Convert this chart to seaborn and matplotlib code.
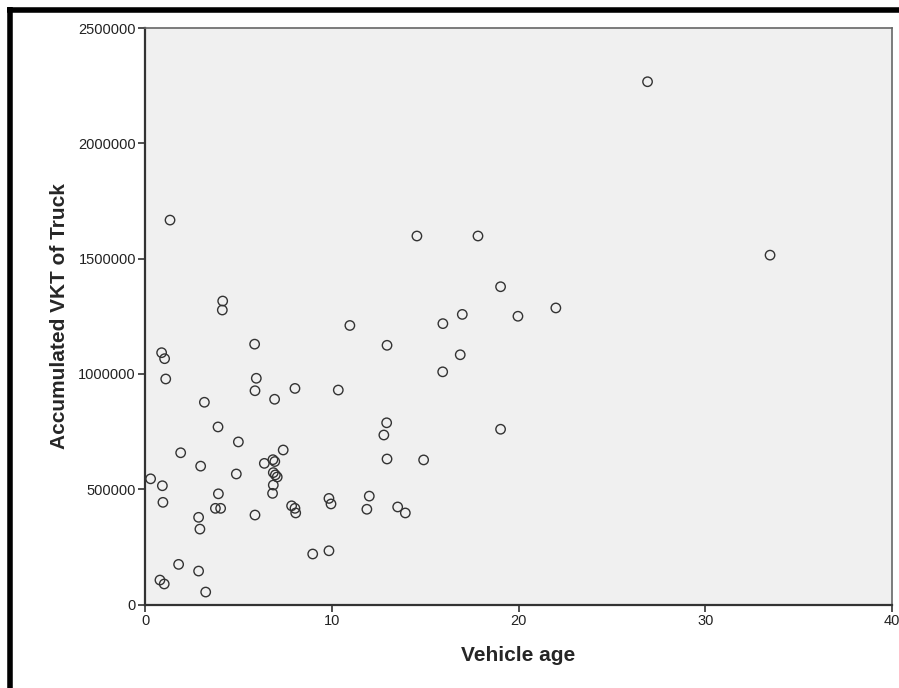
import matplotlib
matplotlib.use("Agg")
import matplotlib.pyplot as plt
import seaborn as sns
import pandas as pd
from matplotlib.lines import Line2D

vehicle_age = [
    4.16, 4.14, 10.97, 0.89, 1.05, 5.87, 1.11, 5.96, 5.89, 8.03,
    10.35, 6.94, 3.18, 3.91, 5.00, 7.40, 1.91, 6.85, 6.95, 6.39,
    2.98, 4.89, 6.87, 6.98, 7.08, 6.87, 6.83, 0.30, 0.93, 0.96,
    3.93, 3.77, 4.05, 5.89, 2.87, 2.94, 7.85, 8.03, 8.07, 9.85,
    9.96, 12.01, 11.88, 8.98, 9.85, 1.80, 2.87, 0.80, 1.03, 3.25,
    19.04, 22.00, 16.99, 19.97, 15.95, 12.96, 16.88, 15.94, 12.94, 12.79,
    19.04, 12.96, 14.92, 13.53, 13.94, 1.34, 14.56, 17.83, 26.91, 33.47,
]
accumulated_vkt = [
    1316000, 1277000, 1210000, 1092000, 1066000, 1129000, 978000, 981000, 927000, 937000,
    930000, 890000, 877000, 770000, 705000, 670000, 658000, 628000, 620000, 612000,
    600000, 566000, 572000, 562000, 553000, 518000, 482000, 545000, 515000, 443000,
    480000, 417000, 417000, 388000, 378000, 327000, 428000, 417000, 397000, 460000,
    436000, 470000, 413000, 219000, 233000, 174000, 145000, 106000, 89000, 54000,
    1378000, 1286000, 1258000, 1250000, 1218000, 1124000, 1083000, 1009000, 788000, 735000,
    760000, 631000, 627000, 423000, 397000, 1667000, 1598000, 1598000, 2267000, 1515000,
]

x_ticks = [0, 10, 20, 30, 40]
y_ticks = [0, 500000, 1000000, 1500000, 2000000, 2500000]
x_label = "Vehicle age"
y_label = "Accumulated VKT of Truck"

df = pd.DataFrame({x_label: vehicle_age, y_label: accumulated_vkt})

sns.set_style("white")
plt.rcParams["font.family"] = ["Liberation Sans Narrow", "Liberation Sans", "DejaVu Sans"]

fig = plt.figure(figsize=(8.99, 6.88), dpi=100)
ax = fig.add_axes([145 / 899, (688 - 604.5) / 688, (892 - 145) / 899, (604.5 - 28) / 688])
ax.set_facecolor("#f0f0f0")

sns.scatterplot(data=df, x=x_label, y=y_label, ax=ax, marker="o",
                s=46, facecolor="none", edgecolor="#333333", linewidth=1.0)

ax.set_xlim(0, 40)
ax.set_ylim(0, 2500000)
ax.set_xticks(x_ticks)
ax.set_xticklabels([str(t) for t in x_ticks])
ax.set_yticks(y_ticks)
ax.set_yticklabels([str(t) for t in y_ticks])
ax.tick_params(axis="both", direction="out", length=5, width=1.2, color="#333333",
               labelsize=10.5, labelcolor="#222222", pad=1.5)
ax.tick_params(top=False, right=False, bottom=True, left=True)

for side in ["left", "bottom"]:
    ax.spines[side].set_color("#333333")
    ax.spines[side].set_linewidth(1.6)
for side in ["top", "right"]:
    ax.spines[side].set_color("#666666")
    ax.spines[side].set_linewidth(1.2)

ax.set_xlabel(x_label, fontsize=15, fontweight="bold", labelpad=13)
ax.set_ylabel(y_label, fontsize=15, fontweight="bold", labelpad=7)

# outer black frame (top and left edges)
fig.add_artist(Line2D([9.5 / 899, 9.5 / 899], [0, 1 - 7 / 688], transform=fig.transFigure,
                      color="black", linewidth=4.0, solid_capstyle="butt"))
fig.add_artist(Line2D([7 / 899, 1], [1 - 9.5 / 688, 1 - 9.5 / 688], transform=fig.transFigure,
                      color="black", linewidth=4.0, solid_capstyle="butt"))

fig.savefig("out.png", dpi=100)
